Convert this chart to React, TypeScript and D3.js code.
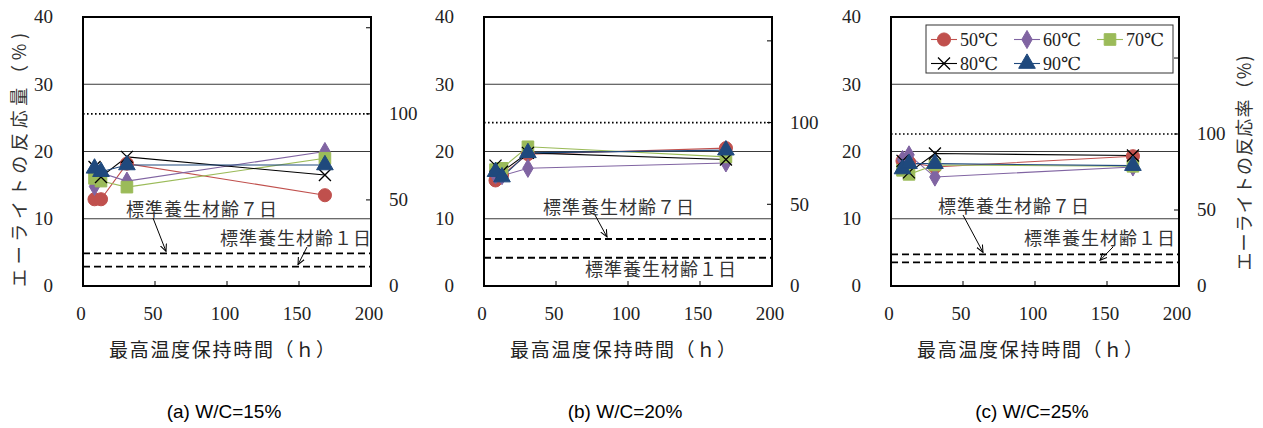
import React from "react";
import * as d3 from "d3";

// Holding time at maximum temperature (h)
const hours = [8, 12.5, 30.5, 168];

const seriesLabels = ["50℃", "60℃", "70℃", "80℃", "90℃"];
const seriesColors = ["#C0504D", "#8064A2", "#9BBB59", "#000000", "#1F497D"];
const seriesShapes = ["circle", "diamond", "square", "cross", "triangle"];

// Alite reaction amount (%) — rows: 50, 60, 70, 80, 90 ℃
const amountWC15 = [
  [12.9, 12.9, 18.2, 13.5],
  [14.8, 16.8, 15.6, 20.0],
  [16.0, 15.6, 14.7, 19.0],
  [17.7, 16.2, 19.2, 16.5],
  [17.5, 17.0, 18.0, 18.0],
];
const amountWC20 = [
  [15.7, 16.5, 19.6, 20.5],
  [16.5, 16.4, 17.5, 18.3],
  [17.3, 17.5, 20.7, 19.2],
  [17.9, 17.0, 19.8, 18.8],
  [17.0, 16.2, 19.8, 20.2],
];
const amountWC25 = [
  [18.6, 18.4, 17.7, 19.3],
  [18.8, 19.5, 16.2, 17.7],
  [17.2, 16.6, 18.0, 17.8],
  [18.6, 16.9, 19.7, 19.4],
  [17.4, 18.2, 18.2, 17.9],
];

const panelCaptions = ["(a) W/C=15%", "(b) W/C=20%", "(c) W/C=25%"];
// Reaction amount corresponding to a 100 % reaction rate
const fullReaction = [25.6, 24.3, 22.6];
// Standard curing, age 7 days / 1 day
const standardCure7d = [4.86, 6.99, 4.71];
const standardCure1d = [2.87, 4.2, 3.52];

const amountTicks = [0, 10, 20, 30, 40];
const gridValues = [10, 20, 30];
const hourTicks = [0, 50, 100, 150, 200];
const rateTickMarks = [50, 100, 150];
const rateTickLabels = [0, 50, 100];

const label7d = "標準養生材齢７日";
const label1d = "標準養生材齢１日";
const xTitle = "最高温度保持時間（ｈ）";
const leftTitle = "エーライトの反応量（%)";
const rightTitle = "エーライトの反応率（%)";

const panelData = [amountWC15, amountWC20, amountWC25];

// Layout
const plotLefts = [83, 484, 891];
const plotW = 288;
const plotTop = 17;
const plotBottom = 286;

const serif = "'Liberation Serif', 'DejaVu Serif', serif";
const jp = "'Noto Sans CJK JP', 'Noto Sans', sans-serif";
const sans = "'Liberation Sans', Arial, sans-serif";

// Annotation placement (x relative to plot left, absolute y)
const annotations = [
  {
    t7: { x: 43, y: 216 }, a7: { x1: 70, y1: 218, x2: 83 },
    t1: { x: 137, y: 245 }, a1: { x1: 224, y1: 247, x2: 215 },
  },
  {
    t7: { x: 59, y: 214 }, a7: { x1: 111, y1: 215, x2: 123 },
    t1: { x: 101, y: 276 }, a1: null,
  },
  {
    t7: { x: 47, y: 213 }, a7: { x1: 72, y1: 215, x2: 92 },
    t1: { x: 133, y: 245 }, a1: { x1: 222, y1: 247, x2: 209 },
  },
];

function Marker({ shape, color, x, y }: { shape: string; color: string; x: number; y: number }) {
  if (shape === "cross") {
    const s = 6;
    return (
      <path
        d={`M${x - s},${y - s}L${x + s},${y + s}M${x - s},${y + s}L${x + s},${y - s}`}
        stroke={color}
        strokeWidth={1.3}
        fill="none"
      />
    );
  }
  const type =
    shape === "circle" ? d3.symbolCircle :
    shape === "diamond" ? d3.symbolDiamond :
    shape === "square" ? d3.symbolSquare : d3.symbolTriangle;
  const size = shape === "circle" ? 135 : shape === "diamond" ? 95 : shape === "square" ? 135 : 120;
  const p = d3.symbol().type(type).size(size)();
  return <path d={p || ""} transform={`translate(${x},${y})`} fill={color} stroke={color} strokeWidth={1} />;
}

function Panel({ idx }: { idx: number }) {
  const left = plotLefts[idx];
  const right = left + plotW;
  const x = d3.scaleLinear().domain([0, 200]).range([left, right]);
  const y = d3.scaleLinear().domain([0, 40]).range([plotBottom, plotTop]);
  const rateMax = (40 * 100) / fullReaction[idx];
  const yr = d3.scaleLinear().domain([0, rateMax]).range([plotBottom, plotTop]);
  const data = panelData[idx];
  const line = d3
    .line<number>()
    .x((_, i) => x(hours[i]))
    .y((d) => y(d));
  const ann = annotations[idx];
  const cx = (left + right) / 2 - 5;
  return (
    <g>
      {/* grid */}
      {gridValues.map((v) => (
        <line key={v} x1={left} x2={right} y1={y(v)} y2={y(v)} stroke="#3a3a3a" strokeWidth={1} />
      ))}
      {/* 100% reaction level */}
      <line
        x1={left} x2={right}
        y1={y(fullReaction[idx])} y2={y(fullReaction[idx])}
        stroke="#000" strokeWidth={1.6} strokeDasharray="1.6,2.4"
      />
      {/* standard curing levels */}
      {[standardCure7d[idx], standardCure1d[idx]].map((v, i) => (
        <line key={i} x1={left} x2={right} y1={y(v)} y2={y(v)} stroke="#000" strokeWidth={1.8} strokeDasharray="7,4" />
      ))}
      {/* x ticks */}
      {hourTicks.slice(1, -1).map((t) => (
        <line key={t} x1={x(t)} x2={x(t)} y1={plotBottom} y2={plotBottom - 5} stroke="#000" strokeWidth={1} />
      ))}
      {/* right ticks */}
      {rateTickMarks.map((t) => (
        <line key={t} x1={right} x2={right - 5} y1={yr(t)} y2={yr(t)} stroke="#000" strokeWidth={1} />
      ))}
      {/* series */}
      {data.map((vals, s) => (
        <path key={s} d={line(vals) || ""} fill="none" stroke={seriesColors[s]} strokeWidth={1.1} />
      ))}
      {data.map((vals, s) =>
        vals.map((v, i) => (
          <Marker key={`${s}-${i}`} shape={seriesShapes[s]} color={seriesColors[s]} x={x(hours[i])} y={y(v)} />
        ))
      )}
      {/* frame */}
      <rect x={left} y={plotTop} width={plotW} height={plotBottom - plotTop} fill="none" stroke="#000" strokeWidth={2} />
      {/* left tick labels */}
      {amountTicks.map((t) => (
        <text key={t} x={left - 30} y={y(t)} dy="0.34em" textAnchor="end" fontFamily={serif} fontSize={19} fill="#222">
          {t}
        </text>
      ))}
      {/* right tick labels */}
      {rateTickLabels.map((t) => (
        <text key={t} x={right + 18} y={yr(t)} dy="0.34em" textAnchor="start" fontFamily={serif} fontSize={19} fill="#222">
          {t}
        </text>
      ))}
      {/* x tick labels */}
      {hourTicks.map((t) => (
        <text key={t} x={x(t) - 2} y={320} textAnchor="middle" fontFamily={serif} fontSize={19} fill="#222">
          {t}
        </text>
      ))}
      <text x={cx} y={357} textAnchor="middle" fontFamily={jp} fontSize={19} textLength={226} lengthAdjust="spacing" fill="#222">
        {xTitle}
      </text>
      {/* annotations */}
      <text x={left + ann.t7.x} y={ann.t7.y} fontFamily={jp} fontSize={18} textLength={151} lengthAdjust="spacing" fill="#333">
        {label7d}
      </text>
      <line
        x1={left + ann.a7.x1} y1={ann.a7.y1} x2={left + ann.a7.x2} y2={y(standardCure7d[idx]) - 2}
        stroke="#000" strokeWidth={1} markerEnd="url(#arrowHead)"
      />
      <text x={left + ann.t1.x} y={ann.t1.y} fontFamily={jp} fontSize={18} textLength={151} lengthAdjust="spacing" fill="#333">
        {label1d}
      </text>
      {ann.a1 && (
        <line
          x1={left + ann.a1.x1} y1={ann.a1.y1} x2={left + ann.a1.x2} y2={y(standardCure1d[idx]) - 2}
          stroke="#000" strokeWidth={1} markerEnd="url(#arrowHead)"
        />
      )}
      <text x={cx + 2} y={418} textAnchor="middle" fontFamily={sans} fontSize={19} fill="#000">
        {panelCaptions[idx]}
      </text>
    </g>
  );
}

function Legend() {
  const bx = 926;
  const by = 25;
  const colX = [931, 1014, 1097];
  const rowY = [39.5, 63.5];
  return (
    <g>
      <rect x={bx} y={by} width={247} height={48} fill="#fff" stroke="#333" strokeWidth={1} />
      {seriesLabels.map((lab, i) => {
        const col = i < 3 ? i : i - 3;
        const row = i < 3 ? 0 : 1;
        const lx = colX[col];
        const ly = rowY[row];
        return (
          <g key={lab}>
            <line x1={lx} x2={lx + 26} y1={ly} y2={ly} stroke={seriesColors[i]} strokeWidth={1.1} />
            <Marker shape={seriesShapes[i]} color={seriesColors[i]} x={lx + 13} y={ly} />
            <text x={lx + 29} y={ly} dy="0.34em" fontFamily={serif} fontSize={18} fill="#222">
              {lab}
            </text>
          </g>
        );
      })}
    </g>
  );
}

export default function App() {
  return (
    <svg
      width={1263}
      height={428}
      viewBox="0 0 1263 428"
      style={{ position: "absolute", left: 0, top: 0, background: "#fff" }}
    >
      <defs>
        <marker id="arrowHead" viewBox="0 0 10 10" refX="9" refY="5" markerWidth="8" markerHeight="8" orient="auto">
          <path d="M0,1L9,5L0,9" fill="none" stroke="#000" strokeWidth={1.3} />
        </marker>
      </defs>
      <rect width={1263} height={428} fill="#fff" />
      {[0, 1, 2].map((i) => (
        <Panel key={i} idx={i} />
      ))}
      <Legend />
      <text
        transform="translate(20,160) rotate(-90)"
        textAnchor="middle"
        dy="0.36em"
        fontFamily={jp}
        fontSize={18}
        textLength={254}
        lengthAdjust="spacing"
        fill="#333"
      >
        {leftTitle}
      </text>
      <text
        transform="translate(1245,163) rotate(-90)"
        textAnchor="middle"
        dy="0.36em"
        fontFamily={jp}
        fontSize={18}
        textLength={215}
        lengthAdjust="spacing"
        fill="#333"
      >
        {rightTitle}
      </text>
    </svg>
  );
}
